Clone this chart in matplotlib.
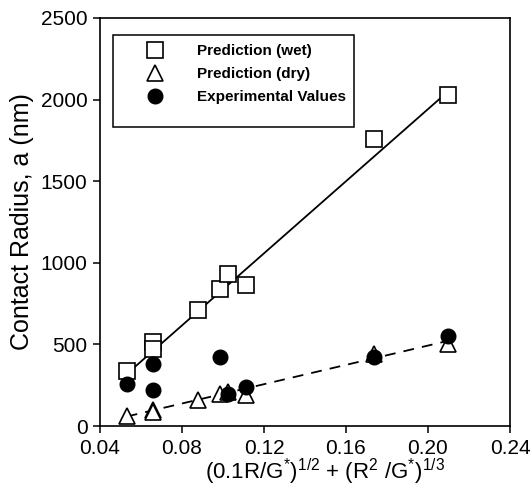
import matplotlib
matplotlib.use("Agg")
import matplotlib.pyplot as plt
from matplotlib.patches import Rectangle

plt.rcParams['font.family'] = ['Liberation Sans', 'DejaVu Sans']
plt.rcParams['mathtext.fontset'] = 'custom'
plt.rcParams['mathtext.rm'] = 'Liberation Sans'
plt.rcParams['mathtext.default'] = 'regular'

# x values (combined parameter)
x_wet = [0.0533, 0.066, 0.066, 0.0877, 0.0985, 0.1026, 0.1111, 0.1737, 0.2096]
y_wet = [338, 512, 473, 711, 841, 933, 861, 1757, 2030]

x_dry = [0.0533, 0.066, 0.066, 0.0877, 0.0985, 0.1026, 0.1111, 0.1737, 0.2096]
y_dry = [61, 97, 85, 158, 195, 210, 191, 440, 502]

x_exp = [0.0533, 0.066, 0.066, 0.0985, 0.1026, 0.1111, 0.1737, 0.2096]
y_exp = [256, 380, 220, 424, 195, 236, 424, 553]

# fit lines (end points)
fit_x = [0.053, 0.2107]
fit_wet = [318, 2060]
fit_dry_x = [0.053, 0.2085]
fit_dry = [58, 518]

xticks = [0.04, 0.08, 0.12, 0.16, 0.20, 0.24]
yticks = [0, 500, 1000, 1500, 2000, 2500]

fig = plt.figure(figsize=(5.32, 4.91), dpi=100)
ax = fig.add_axes([100 / 532, 1 - 426 / 491, 410 / 532, 408 / 491])

ax.plot(fit_x, fit_wet, color='black', lw=1.3, zorder=2)
ax.plot(fit_dry_x, fit_dry, color='black', lw=1.3, linestyle=(0, (6, 4.5)), zorder=2)

ax.plot(x_wet, y_wet, linestyle='none', marker='s', ms=11.5, mfc='white',
        mec='black', mew=1.2, zorder=3, label='Prediction (wet)')
ax.plot(x_dry, y_dry, linestyle='none', marker='^', ms=11, mfc='white',
        mec='black', mew=1.2, zorder=3, label='Prediction (dry)')
ax.plot(x_exp, y_exp, linestyle='none', marker='o', ms=10.5, mfc='black',
        mec='black', zorder=4, label='Experimental Values')

ax.set_xlim(0.04, 0.24)
ax.set_ylim(0, 2500)
ax.set_xticks(xticks)
ax.set_xticklabels(['%.2f' % v for v in xticks])
ax.set_yticks(yticks)
ax.tick_params(direction='out', length=5, width=1.1, labelsize=15, pad=4)
for s in ax.spines.values():
    s.set_linewidth(1.2)

ax.set_ylabel('Contact Radius, a (nm)', fontsize=18)
ax.yaxis.set_label_coords(-0.16, 0.5)
ax.set_xlabel(r'(0.1R/G$^{*}$)$^{1/2}$ + (R$^{2}$ /G$^{*}$)$^{1/3}$', fontsize=16)
ax.xaxis.set_label_coords(0.549, -0.075)

# legend without its own frame, box drawn separately
leg = ax.legend(loc='upper left', bbox_to_anchor=(0.0968, 0.936), borderaxespad=0,
                borderpad=0, numpoints=1, frameon=False,
                prop={'size': 11, 'weight': 'bold'}, handlelength=2.0,
                handletextpad=1.745, labelspacing=0.6)
ax.add_patch(Rectangle((0.0317, 0.733), 0.588, 0.225, transform=ax.transAxes,
                       fill=False, edgecolor='black', lw=1.1, zorder=5))

fig.savefig('out.png', dpi=100)
